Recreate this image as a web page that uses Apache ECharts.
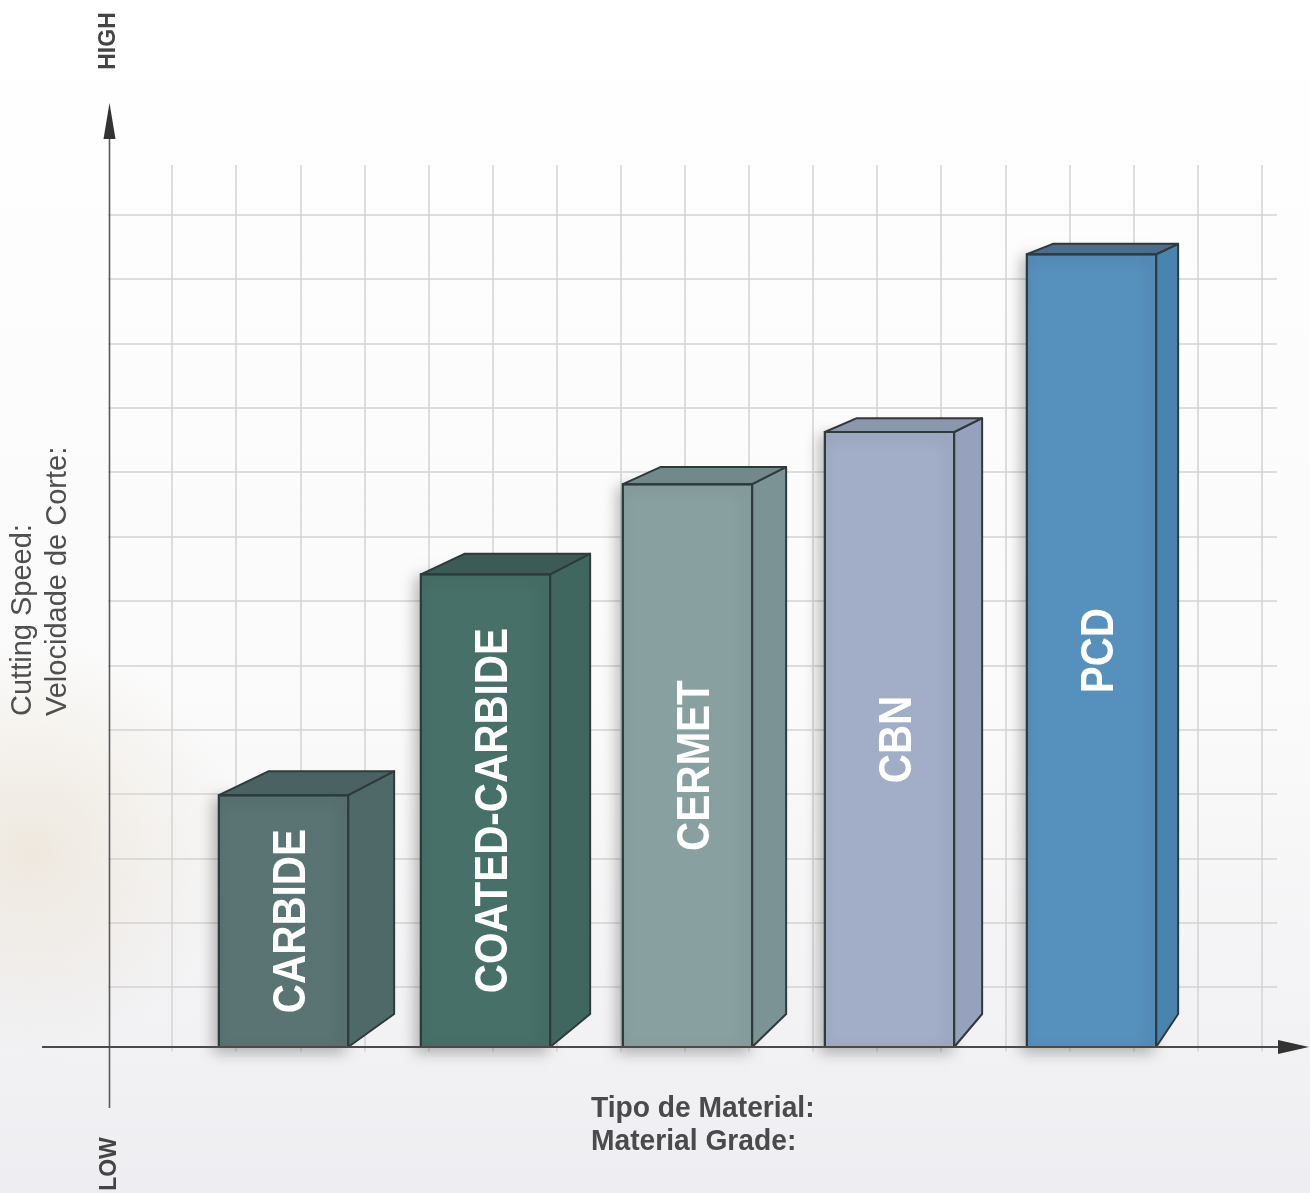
<!DOCTYPE html>
<html>
<head>
<meta charset="utf-8">
<script src="https://cdn.jsdelivr.net/npm/echarts@6/dist/echarts.min.js"></script>
<style>
html,body{margin:0;padding:0;background:#fff;}
#chart{width:1310px;height:1193px;}
</style>
</head>
<body>
<div id="chart"></div>
<script>
// ---- data ----
const categories = ['CARBIDE', 'COATED-CARBIDE', 'CERMET', 'CBN', 'PCD'];
const speedValues = [3.91, 7.34, 8.74, 9.55, 12.31];
const yAxisTitleHigh = 'HIGH';
const yAxisTitleLow = 'LOW';
const yAxisNames = ['Cutting Speed:', 'Velocidade de Corte:'];
const xAxisNames = ['Tipo de Material:', 'Material Grade:'];

// ---- styles ----
const palette = [
  { front: '#5a7473', side: '#4e6968', top: '#4a6261' },
  { front: '#477069', side: '#3f665f', top: '#3c5b56' },
  { front: '#89a0a1', side: '#7b9394', top: '#72898a' },
  { front: '#a2adc7', side: '#96a2bd', top: '#8a97ad' },
  { front: '#5690bc', side: '#4a83ae', top: '#4a6e8c' }
];
const outline = '#2f3a3c';
const gridColor = '#d3d3d3';
const FONT = '"Liberation Sans", Arial, Helvetica, sans-serif';

const chart = echarts.init(document.getElementById('chart'), null, { renderer: 'canvas' });

function renderBar(params, api) {
  const i = params.dataIndex;
  const p = palette[i % palette.length];
  const topPt = api.coord([api.value(0), api.value(1)]);
  const basePt = api.coord([api.value(0), 0]);
  const bw = api.size([1, 0])[0] * 0.64;
  const x0 = topPt[0] - bw / 2, x1 = topPt[0] + bw / 2;
  const y0 = topPt[1], yb = basePt[1];
  const dx = 46 - 6 * i;
  const dy = 24 - 3.4 * i;
  const dyb = 33;
  return {
    type: 'group',
    children: [
      {
        type: 'rect',
        shape: { x: x0, y: y0, width: bw, height: yb - y0 },
        style: {
          fill: p.front, stroke: outline, lineWidth: 2,
          shadowBlur: 14, shadowColor: 'rgba(0,0,0,0.28)', shadowOffsetX: -4, shadowOffsetY: 4
        },
        z2: 1
      },
      {
        type: 'polygon',
        shape: { points: [[x1, yb], [x1 + dx, yb - dyb], [x1 + dx, y0 - dy], [x1, y0]] },
        style: { fill: p.side, stroke: outline, lineWidth: 2, lineJoin: 'round' },
        z2: 2
      },
      {
        type: 'polygon',
        shape: { points: [[x0, y0], [x0 + dx + 4, y0 - dy], [x1 + dx, y0 - dy], [x1, y0]] },
        style: { fill: p.top, stroke: outline, lineWidth: 2, lineJoin: 'round' },
        z2: 3
      },
      {
        type: 'rect',
        shape: { x: x0, y: y0, width: bw, height: yb - y0 },
        style: { fill: 'none', stroke: outline, lineWidth: 2 },
        z2: 4
      },
      {
        type: 'text',
        x: topPt[0] + 9,
        y: (y0 + yb) / 2,
        rotation: Math.PI / 2,
        scaleX: 0.86,
        style: {
          text: categories[i],
          fill: '#ffffff',
          font: 'bold 47px ' + FONT,
          align: 'center',
          verticalAlign: 'middle'
        },
        z2: 5
      }
    ]
  };
}

const option = {
  backgroundColor: {
    type: 'linear', x: 0, y: 0, x2: 0, y2: 1,
    colorStops: [
      { offset: 0, color: '#ffffff' },
      { offset: 0.6, color: '#fafafa' },
      { offset: 1, color: '#eeeef2' }
    ]
  },
  animation: false,
  grid: [
    { left: 108, top: 165, right: 33, bottom: 141.4 },
    { left: 182.5, top: 165, right: 117.5, bottom: 146 }
  ],
  xAxis: [
    {
      type: 'value', gridIndex: 0, min: 0, max: 18.24, interval: 1,
      axisLine: { show: false }, axisTick: { show: false }, axisLabel: { show: false },
      splitLine: { show: true, showMinLine: false, showMaxLine: false, lineStyle: { color: gridColor, width: 1.5 } }
    },
    {
      type: 'category', gridIndex: 1, data: categories,
      axisLine: { show: false }, axisTick: { show: false }, axisLabel: { show: false },
      splitLine: { show: false }
    }
  ],
  yAxis: [
    {
      type: 'value', gridIndex: 0, min: 0, max: 13.77, interval: 1,
      axisLine: { show: false }, axisTick: { show: false }, axisLabel: { show: false },
      splitLine: { show: true, showMinLine: false, showMaxLine: false, lineStyle: { color: gridColor, width: 1.5 } }
    },
    {
      type: 'value', gridIndex: 1, min: 0, max: 13.696,
      axisLine: { show: false }, axisTick: { show: false }, axisLabel: { show: false },
      splitLine: { show: false }
    }
  ],
  series: [
    {
      type: 'custom',
      xAxisIndex: 1,
      yAxisIndex: 1,
      renderItem: renderBar,
      data: speedValues.map((v, i) => [i, v]),
      z: 5
    }
  ],
  graphic: [
    {
      type: 'rect', silent: true, z: -1,
      shape: { x: 0, y: 620, width: 300, height: 460 },
      style: {
        fill: {
          type: 'radial', x: 0.1, y: 0.5, r: 0.7,
          colorStops: [
            { offset: 0, color: 'rgba(228,214,192,0.45)' },
            { offset: 1, color: 'rgba(228,214,192,0)' }
          ]
        }
      }
    },
    // y axis line + arrow
    { type: 'line', z: 10, shape: { x1: 109.5, y1: 1108, x2: 109.5, y2: 136 }, style: { stroke: '#5a5a5a', lineWidth: 1.6 } },
    { type: 'polygon', z: 10, shape: { points: [[109.5, 103], [103.5, 139], [115.5, 139]] }, style: { fill: '#333333' } },
    // x axis line + arrow
    { type: 'line', z: 10, shape: { x1: 42, y1: 1047, x2: 1282, y2: 1047 }, style: { stroke: '#4a4a4a', lineWidth: 2 } },
    { type: 'polygon', z: 10, shape: { points: [[1309, 1047], [1278, 1040], [1278, 1054]] }, style: { fill: '#333333' } },
    // axis end labels
    {
      type: 'text', z: 10, x: 109, y: 41, rotation: Math.PI / 2,
      style: { text: yAxisTitleHigh, font: 'bold 23px ' + FONT, fill: '#444444', align: 'center', verticalAlign: 'middle' }
    },
    {
      type: 'text', z: 10, x: 110, y: 1164, rotation: Math.PI / 2,
      style: { text: yAxisTitleLow, font: 'bold 23px ' + FONT, fill: '#444444', align: 'center', verticalAlign: 'middle' }
    },
    // y axis names
    {
      type: 'text', z: 10, x: 23, y: 716, rotation: Math.PI / 2,
      style: { text: yAxisNames[0], font: '29px ' + FONT, fill: '#4f4f4f', align: 'left', verticalAlign: 'middle' }
    },
    {
      type: 'text', z: 10, x: 58, y: 716, rotation: Math.PI / 2,
      style: { text: yAxisNames[1], font: '29px ' + FONT, fill: '#4f4f4f', align: 'left', verticalAlign: 'middle' }
    },
    // x axis names
    {
      type: 'text', z: 10, x: 591, y: 1109, scaleX: 0.94,
      style: { text: xAxisNames[0], font: 'bold 30px ' + FONT, fill: '#4a4a4a', align: 'left', verticalAlign: 'middle' }
    },
    {
      type: 'text', z: 10, x: 591, y: 1142, scaleX: 0.94,
      style: { text: xAxisNames[1], font: 'bold 30px ' + FONT, fill: '#4a4a4a', align: 'left', verticalAlign: 'middle' }
    }
  ]
};

chart.setOption(option);
</script>
</body>
</html>
